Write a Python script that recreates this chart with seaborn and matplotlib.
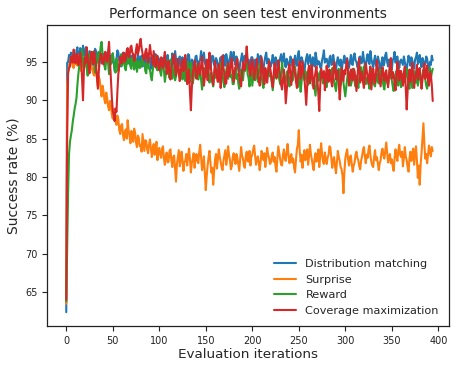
import matplotlib
matplotlib.use("Agg")
import matplotlib.pyplot as plt
import seaborn as sns
import pandas as pd
import numpy as np

methods = ["Distribution matching", "Surprise", "Reward", "Coverage maximization"]

dist_matching = [
    62.4, 94.9, 95.0, 95.9, 94.6, 96.2, 95.8, 94.7, 96.3, 95.6, 95.2, 96.5, 96.9, 95.3, 95.7, 96.8, 96.4, 95.5, 97.1, 96.0,
    95.8, 96.9, 96.6, 95.2, 95.1, 96.4, 96.2, 94.5, 94.9, 95.9, 95.7, 96.7, 96.4, 95.0, 95.3, 96.3, 96.0, 95.4, 94.8, 96.1,
    95.9, 94.7, 96.3, 95.6, 95.2, 96.0, 94.6, 95.5, 95.8, 94.9, 96.1, 95.0, 93.8, 94.6, 95.4, 96.5, 96.2, 95.1, 95.0, 94.4,
    95.6, 96.2, 94.9, 95.4, 96.1, 94.8, 95.3, 96.0, 94.7, 95.2, 95.8, 94.6, 96.0, 95.5, 95.2, 94.3, 94.5, 95.9, 95.7, 94.8,
    95.1, 95.8, 94.4, 95.0, 95.9, 94.6, 95.3, 96.1, 94.8, 95.2, 95.6, 94.1, 94.2, 95.7, 95.4, 94.5, 96.0, 95.3, 94.7, 95.5,
    95.3, 94.6, 94.1, 95.5, 95.0, 94.3, 95.8, 95.1, 94.5, 95.9, 93.7, 94.8, 95.2, 94.4, 96.1, 95.0, 94.6, 96.4, 95.4, 94.2,
    94.3, 95.2, 95.7, 94.4, 94.9, 95.6, 93.9, 94.8, 95.5, 94.0, 94.7, 96.0, 95.9, 94.5, 94.2, 95.3, 95.1, 93.8, 94.6, 95.7,
    95.8, 94.7, 94.0, 95.1, 95.3, 96.4, 94.8, 95.5, 96.2, 94.9, 94.5, 95.2, 93.6, 94.4, 95.4, 94.1, 94.9, 95.8, 95.7, 94.6,
    94.4, 95.5, 95.2, 94.6, 93.8, 94.9, 95.6, 94.2, 94.7, 95.9, 95.1, 94.5, 96.0, 95.4, 94.3, 95.0, 95.5, 96.3, 94.8, 95.3,
    96.3, 95.2, 94.6, 95.7, 95.0, 94.4, 93.7, 94.9, 95.4, 96.1, 94.9, 95.6, 95.8, 94.5, 94.2, 95.0, 95.3, 94.1, 94.7, 95.6,
    95.6, 94.9, 94.1, 95.3, 95.2, 94.6, 96.0, 95.4, 94.5, 95.8, 95.1, 94.3, 93.9, 95.0, 95.7, 96.2, 94.8, 95.4, 95.3, 94.4,
    94.4, 95.1, 95.9, 94.8, 94.7, 95.6, 95.2, 94.3, 93.8, 94.9, 95.5, 96.0, 94.9, 95.3, 96.1, 94.6, 94.3, 95.4, 95.0, 94.5,
    94.6, 95.7, 95.4, 94.5, 93.9, 95.1, 95.8, 94.7, 94.5, 95.9, 96.4, 95.0, 94.8, 95.6, 95.2, 94.4, 93.6, 94.8, 95.5, 96.0,
    94.7, 95.4, 95.9, 94.8, 94.2, 95.6, 95.3, 94.4, 96.2, 95.5, 94.6, 95.1, 95.0, 94.3, 94.1, 95.2, 95.7, 96.5, 94.9, 95.3,
    95.4, 94.8, 94.3, 95.5, 95.8, 94.6, 94.7, 95.9, 95.1, 94.2, 93.8, 95.0, 95.6, 94.9, 94.5, 95.3, 93.5, 94.7, 95.2, 95.8,
    94.8, 95.3, 95.5, 94.5, 94.2, 95.1, 95.9, 94.7, 94.6, 95.8, 96.1, 95.2, 95.0, 94.3, 94.4, 95.6, 95.7, 94.8, 94.9, 96.3,
    95.3, 94.6, 94.1, 95.5, 96.0, 95.1, 94.7, 96.4, 95.4, 94.8, 94.3, 95.2, 95.8, 94.5, 94.6, 95.7, 95.2, 94.4, 93.9, 95.0,
    95.6, 94.5, 94.8, 95.9, 96.2, 95.0, 94.4, 95.3, 95.1, 94.6, 94.0, 95.2, 95.5, 96.3, 94.9, 95.4, 95.7, 94.7, 94.2, 95.1,
    95.3, 94.9, 94.6, 95.7, 95.0, 94.3, 93.8, 94.9, 95.8, 95.2, 94.5, 95.6, 95.2, 94.4, 94.1, 95.3, 95.6, 96.2, 94.7, 95.0,
    95.9, 95.0, 94.3, 95.5, 95.1, 94.6, 94.8, 95.7, 95.4, 94.5, 93.9, 95.0, 94.6, 95.8, 95.2,
]

surprise = [
    63.5, 92.0, 93.5, 94.6, 94.8, 95.7, 95.3, 94.4, 94.2, 95.0, 95.6, 94.7, 94.5, 95.8, 95.1, 94.3, 93.8, 94.9, 95.4, 94.2,
    94.6, 95.2, 95.4, 94.5, 94.1, 95.3, 95.0, 94.0, 94.3, 93.5, 93.2, 94.6, 94.0, 92.9, 91.8, 93.1, 92.6, 91.4, 90.5, 91.9,
    91.2, 90.1, 89.6, 91.0, 90.3, 89.2, 88.7, 89.9, 89.4, 88.1, 87.6, 88.6, 88.9, 87.2, 86.8, 88.0, 87.5, 86.1, 85.6, 86.7,
    86.9, 85.5, 84.8, 85.9, 86.2, 85.0, 87.4, 86.1, 85.3, 84.4, 86.0, 85.2, 84.6, 86.3, 85.8, 84.5, 83.9, 85.4, 85.1, 84.0,
    84.2, 83.3, 85.6, 84.5, 83.4, 84.8, 84.7, 83.6, 83.1, 84.2, 84.9, 83.8, 82.6, 83.7, 84.3, 82.9, 83.5, 84.6, 82.2, 83.4,
    83.8, 82.9, 82.5, 83.7, 84.0, 82.4, 81.6, 82.8, 83.2, 81.9, 82.0, 83.4, 83.6, 82.2, 81.3, 82.6, 82.8, 81.0, 79.4, 81.7,
    82.6, 83.5, 81.4, 82.0, 83.3, 82.2, 80.8, 81.9, 82.1, 83.0, 81.5, 82.7, 83.7, 82.3, 80.6, 81.8, 82.4, 83.1, 81.2, 82.5,
    83.0, 82.1, 81.8, 83.3, 84.2, 82.5, 80.9, 81.6, 82.7, 80.4, 78.3, 80.1, 81.5, 82.6, 83.4, 81.9, 80.6, 81.2, 79.0, 80.8,
    82.3, 83.0, 81.1, 82.4, 83.6, 82.7, 82.0, 81.3, 80.9, 82.1, 82.8, 83.5, 81.6, 82.5, 84.0, 82.9, 82.2, 81.0, 81.4, 82.6,
    83.1, 82.2, 81.7, 83.0, 82.5, 81.6, 80.8, 82.3, 83.9, 82.8, 82.4, 81.5, 81.2, 82.7, 83.3, 82.1, 82.0, 83.4, 81.5, 82.6,
    82.9, 83.6, 84.1, 82.8, 81.6, 82.3, 82.7, 81.8, 80.9, 82.0, 83.4, 82.6, 82.2, 83.1, 81.3, 82.4, 83.8, 82.9, 82.5, 81.7,
    81.9, 82.8, 83.2, 82.0, 82.6, 81.4, 80.7, 82.5, 84.0, 83.1, 82.3, 81.6, 81.5, 82.9, 83.6, 82.4, 82.1, 83.3, 84.3, 82.8,
    81.8, 82.6, 83.0, 81.9, 82.4, 81.2, 80.6, 82.3, 83.7, 84.2, 86.1, 83.4, 82.0, 82.9, 81.2, 82.5, 83.5, 82.2, 82.7, 83.6,
    81.6, 82.7, 84.2, 83.0, 82.3, 81.5, 80.9, 82.4, 83.1, 82.0, 82.5, 83.6, 81.3, 82.6, 84.4, 83.1, 82.0, 81.7, 83.2, 82.4,
    81.7, 82.5, 82.9, 84.0, 83.8, 82.4, 81.2, 82.3, 82.6, 81.4, 80.5, 82.0, 83.4, 82.6, 82.1, 81.3, 81.0, 80.2, 77.9, 80.6,
    82.4, 83.1, 83.6, 82.3, 81.5, 82.6, 82.8, 81.6, 80.7, 81.5, 81.9, 82.9, 83.3, 82.5, 82.2, 81.4, 81.0, 82.1, 82.7, 83.5,
    83.9, 82.7, 81.8, 82.9, 82.5, 83.6, 84.1, 82.8, 82.0, 81.5, 81.3, 82.6, 83.5, 82.2, 82.6, 81.7, 80.9, 81.8, 82.2, 83.3,
    83.7, 82.8, 82.4, 83.5, 84.5, 83.2, 81.9, 82.6, 83.0, 81.8, 82.3, 81.4, 80.8, 82.5, 83.6, 82.7, 82.1, 83.4, 84.2, 82.9,
    82.6, 83.3, 81.4, 82.5, 83.9, 82.7, 82.2, 81.3, 80.7, 82.4, 83.3, 82.1, 82.8, 83.7, 81.6, 82.9, 84.0, 82.2, 79.9, 81.5,
    79.0, 81.6, 83.2, 85.1, 87.0, 84.3, 82.4, 83.0, 81.8, 82.9, 84.1, 83.3, 82.7, 83.9, 83.4,
]

reward = [
    63.8, 71.2, 78.0, 83.0, 84.6, 85.4, 86.1, 87.2, 88.0, 88.9, 89.5, 90.3, 92.0, 93.4, 94.5, 95.2, 96.0, 96.6, 95.4, 94.1,
    95.0, 95.7, 94.3, 93.2, 94.9, 96.0, 95.2, 94.8, 96.3, 95.5, 94.6, 93.6, 94.7, 95.1, 96.2, 94.4, 95.8, 97.0, 97.6, 96.1,
    95.2, 94.5, 94.0, 95.3, 95.9, 94.8, 93.4, 94.6, 94.7, 95.5, 96.1, 95.0, 94.2, 93.6, 95.4, 94.9, 93.8, 94.5, 95.0, 96.0,
    94.5, 95.2, 95.7, 94.3, 93.9, 95.0, 94.8, 96.0, 95.6, 94.4, 94.1, 95.5, 95.3, 94.0, 94.6, 95.4, 93.7, 94.5, 95.1, 94.2,
    94.3, 95.0, 95.5, 94.6, 94.8, 93.8, 93.5, 94.9, 95.2, 94.1, 94.0, 93.1, 92.6, 93.9, 94.7, 95.6, 95.3, 94.2, 93.9, 94.8,
    94.6, 93.7, 93.2, 94.5, 95.0, 93.9, 92.4, 93.3, 94.1, 95.2, 93.6, 92.9, 95.3, 94.0, 92.8, 93.8, 94.4, 92.6, 93.1, 94.3,
    94.7, 93.5, 92.9, 94.1, 93.8, 92.7, 95.1, 93.9, 92.5, 93.6, 94.0, 95.0, 93.3, 92.4, 94.9, 93.8, 92.2, 93.0, 93.7, 94.6,
    94.5, 93.4, 92.7, 93.8, 93.9, 92.6, 91.4, 92.9, 94.2, 93.5, 93.0, 94.3, 95.2, 93.7, 92.3, 93.1, 93.6, 92.4, 91.8, 93.3,
    94.4, 92.9, 93.1, 94.0, 92.4, 93.6, 94.8, 93.2, 93.5, 92.3, 91.7, 92.8, 93.9, 94.5, 92.8, 93.7, 94.6, 93.0, 93.2, 92.1,
    92.1, 93.3, 94.3, 92.8, 93.4, 92.2, 91.5, 92.7, 94.0, 93.1, 92.6, 93.9, 93.8, 94.6, 95.0, 93.4, 92.9, 91.8, 93.5, 94.2,
    91.9, 93.0, 94.1, 92.6, 93.0, 94.2, 92.4, 93.5, 94.7, 93.6, 93.3, 92.1, 91.6, 92.8, 93.9, 92.5, 92.7, 93.8, 94.5, 93.1,
    93.2, 92.3, 91.3, 92.6, 94.2, 93.5, 92.8, 94.0, 93.6, 92.7, 92.1, 93.3, 94.9, 93.8, 93.4, 92.2, 92.5, 93.6, 93.8, 92.9,
    91.8, 92.9, 93.7, 92.5, 92.9, 93.9, 94.4, 93.1, 92.3, 91.7, 93.5, 92.6, 91.1, 92.4, 94.0, 93.3, 92.6, 93.8, 93.3, 92.4,
    92.0, 93.2, 94.3, 93.5, 93.1, 91.9, 92.4, 91.5, 90.6, 92.3, 93.6, 92.5, 92.8, 93.7, 94.1, 92.9, 92.2, 93.0, 93.5, 92.1,
    91.7, 92.8, 93.9, 93.0, 92.7, 93.6, 94.2, 93.1, 92.5, 91.8, 91.2, 92.6, 93.4, 94.1, 92.9, 92.0, 94.0, 93.2, 92.3, 91.4,
    90.5, 91.6, 92.8, 93.9, 93.6, 92.7, 91.9, 92.5, 94.1, 93.3, 92.4, 91.8, 93.2, 92.6, 91.6, 92.9, 93.8, 94.3, 92.6, 93.1,
    94.4, 93.2, 92.1, 92.8, 93.0, 92.2, 91.5, 92.6, 93.7, 94.1, 92.9, 92.0, 91.8, 93.0, 93.5, 92.4, 92.2, 93.3, 94.0, 92.7,
    92.7, 91.9, 91.4, 92.6, 93.3, 92.4, 92.0, 93.5, 94.2, 93.0, 92.6, 91.8, 91.2, 92.3, 93.1, 93.8, 92.4, 91.9, 93.9, 92.8,
    91.7, 92.6, 93.4, 92.3, 92.5, 93.7, 94.1, 92.9, 92.0, 91.5, 93.2, 92.4, 91.6, 92.8, 93.8, 93.0, 92.3, 93.4, 91.9, 92.7,
    93.5, 92.8, 92.2, 93.4, 94.0, 93.1, 92.7, 91.9, 91.5, 92.6, 93.3, 94.2, 92.8, 93.6, 94.1,
]

coverage = [
    64.0, 85.5, 93.6, 94.2, 94.4, 95.7, 95.5, 94.9, 96.6, 95.3, 94.8, 96.0, 95.9, 94.6, 95.3, 96.2, 95.0, 92.8, 90.0, 93.9,
    95.6, 94.9, 96.9, 95.7, 94.2, 93.5, 95.1, 96.3, 95.8, 94.7, 96.4, 95.5, 94.5, 93.0, 91.5, 93.8, 95.2, 96.1, 95.9, 94.8,
    94.7, 95.8, 96.3, 95.2, 95.0, 96.4, 97.6, 95.1, 92.8, 90.4, 88.6, 88.1, 87.3, 88.9, 88.5, 91.2, 93.4, 94.6, 95.7, 94.9,
    94.8, 95.9, 96.2, 95.0, 95.3, 96.5, 96.8, 95.7, 95.6, 96.9, 97.1, 96.2, 96.0, 95.1, 95.4, 96.6, 97.3, 96.0, 96.5, 97.4,
    98.0, 96.8, 96.1, 95.4, 95.2, 96.3, 96.7, 95.6, 94.9, 96.0, 97.2, 96.1, 95.5, 94.6, 96.4, 95.3, 94.3, 95.0, 95.8, 94.6,
    93.9, 94.8, 95.6, 94.5, 94.2, 95.4, 96.3, 94.9, 93.4, 94.0, 95.1, 93.6, 92.7, 93.9, 94.8, 95.7, 96.0, 94.4, 93.2, 94.1,
    95.4, 93.8, 92.5, 93.6, 94.6, 95.3, 93.8, 94.7, 95.9, 94.0, 92.1, 93.2, 94.0, 91.0, 88.7, 91.6, 93.5, 94.4, 95.2, 93.7,
    92.8, 93.9, 94.9, 93.5, 93.3, 94.6, 95.7, 93.8, 91.9, 93.0, 94.4, 95.3, 92.6, 94.1, 96.2, 94.5, 93.7, 92.5, 92.0, 93.4,
    95.1, 94.0, 93.0, 92.4, 94.7, 93.5, 91.6, 93.2, 95.8, 94.3, 93.4, 92.1, 92.2, 93.8, 94.9, 93.1, 93.6, 94.8, 95.5, 94.0,
    92.4, 93.7, 94.2, 95.1, 95.4, 93.9, 93.1, 92.3, 91.8, 93.6, 95.0, 94.1, 93.9, 95.5, 97.0, 95.2, 94.6, 93.5, 93.2, 94.7,
    95.3, 94.0, 92.7, 93.9, 94.5, 95.4, 93.4, 92.6, 91.9, 93.3, 95.6, 94.3, 93.0, 92.1, 94.2, 93.5, 92.3, 93.8, 95.1, 94.4,
    93.6, 92.5, 91.7, 93.4, 94.8, 93.7, 92.9, 94.1, 95.2, 94.0, 93.3, 92.0, 91.4, 92.7, 94.0, 92.2, 89.6, 91.3, 92.8, 94.1,
    94.7, 93.4, 92.0, 93.8, 95.3, 94.2, 93.5, 92.4, 91.6, 93.0, 94.3, 95.1, 92.8, 93.9, 95.0, 93.6, 93.1, 91.2, 89.4, 91.8,
    93.8, 94.5, 92.2, 93.3, 94.6, 92.8, 91.5, 92.9, 93.7, 94.4, 92.6, 90.9, 88.6, 91.7, 94.1, 93.2, 92.9, 93.8, 91.3, 92.6,
    94.5, 93.1, 92.4, 94.0, 93.6, 92.3, 91.8, 93.5, 95.0, 94.1, 92.7, 93.4, 93.9, 92.0, 90.1, 91.9, 94.2, 93.3, 92.5, 93.9,
    93.4, 94.6, 95.3, 93.7, 91.9, 92.8, 94.0, 93.2, 92.6, 94.1, 93.8, 92.5, 91.2, 92.9, 94.6, 95.4, 92.3, 93.0, 93.7, 92.4,
    91.6, 93.2, 94.8, 93.9, 92.9, 92.1, 93.5, 94.4, 91.4, 92.7, 94.1, 93.0, 92.2, 93.6, 95.2, 94.3, 93.0, 92.4, 91.8, 93.5,
    94.3, 93.1, 92.5, 93.6, 93.9, 92.6, 91.7, 93.0, 94.7, 95.5, 92.8, 93.7, 93.4, 92.2, 91.3, 92.9, 95.0, 94.0, 92.6, 93.8,
    93.8, 92.7, 91.9, 93.6, 94.4, 91.5, 88.8, 91.2, 93.1, 94.0, 92.4, 93.3, 94.9, 93.1, 91.6, 92.8, 93.5, 94.6, 92.7, 93.9,
    94.2, 92.9, 91.5, 92.7, 93.6, 94.8, 92.8, 93.5, 94.5, 92.6, 91.9, 93.7, 93.3, 92.0, 89.9,
]

x_ticks = [0, 50, 100, 150, 200, 250, 300, 350, 400]
y_ticks = [65, 70, 75, 80, 85, 90, 95]

series = [dist_matching, surprise, reward, coverage]
assert all(len(s) == 395 for s in series), [len(s) for s in series]
frames = []
for name, vals in zip(methods, series):
    frames.append(pd.DataFrame({
        "iteration": np.arange(len(vals)),
        "success": vals,
        "method": name,
    }))
df = pd.concat(frames, ignore_index=True)

sns.set_theme(style="ticks")
plt.rcParams["font.family"] = ["DejaVu Sans"]

fig = plt.figure(figsize=(4.64, 3.71), dpi=100)
ax = fig.add_axes([47 / 464, 1 - 326 / 371, 402 / 464, 301 / 371])

palette = ["#1f77b4", "#ff7f0e", "#2ca02c", "#d62728"]
sns.lineplot(data=df, x="iteration", y="success", hue="method",
             hue_order=methods, palette=palette, linewidth=1.5, ax=ax)

ax.set_xlim(-20.7, 411.5)
ax.set_ylim(60.6, 99.8)
ax.set_xticks(x_ticks)
ax.set_yticks(y_ticks)
ax.tick_params(labelsize=7, length=3.5, width=0.8, colors="#222222")
for s in ax.spines.values():
    s.set_linewidth(0.9)
    s.set_color("#222222")

ax.set_xlabel("Evaluation iterations", fontsize=9.7, labelpad=2)
ax.set_ylabel("Success rate (%)", fontsize=10, labelpad=3)
ax.set_title("Performance on seen test environments", fontsize=10, pad=5)

handles, labels = ax.get_legend_handles_labels()
ax.legend(handles, labels, loc="lower right", frameon=False, fontsize=8.1,
          handlelength=2.0, borderaxespad=0.5, labelspacing=0.5)

fig.savefig("out.png", dpi=100)
